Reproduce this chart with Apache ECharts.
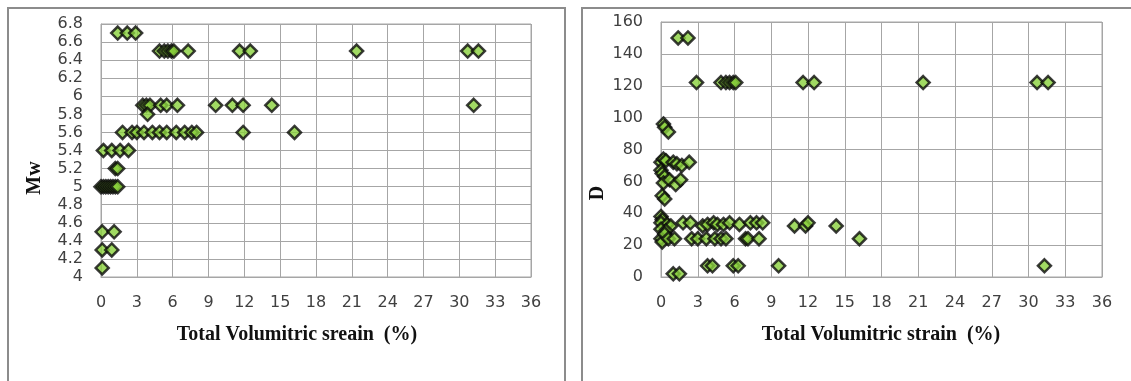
<!DOCTYPE html>
<html>
<head>
<meta charset="utf-8">
<script src="https://cdn.jsdelivr.net/npm/echarts@6/dist/echarts.min.js"></script>
<style>
  html, body { margin: 0; padding: 0; background: #fff; }
  #chart { width: 1131px; height: 381px; }
</style>
</head>
<body>
<div id="chart"></div>
<script>
// left panel: strain (%) vs Mw
const mwStrain = [
  1.4, 2.2, 2.9,
  4.9, 5.3, 5.6, 5.9, 6.1, 7.3, 11.6, 12.5, 21.4, 30.7, 31.6,
  3.5, 3.8, 4.1, 5.0, 5.5, 6.4, 9.6, 11.0, 11.9, 14.3, 31.2,
  3.9,
  1.8, 2.6, 3.0, 3.6, 4.3, 4.9, 5.5, 6.3, 7.0, 7.6, 8.0, 11.9, 16.2,
  0.2, 0.9, 1.6, 2.3,
  1.2, 1.4,
  0.0, 0.2, 0.4, 0.6, 0.8, 1.0, 1.2, 1.4,
  0.1, 1.1,
  0.1, 0.9,
  0.1
];
const mwValues = [
  6.7, 6.7, 6.7,
  6.5, 6.5, 6.5, 6.5, 6.5, 6.5, 6.5, 6.5, 6.5, 6.5, 6.5,
  5.9, 5.9, 5.9, 5.9, 5.9, 5.9, 5.9, 5.9, 5.9, 5.9, 5.9,
  5.8,
  5.6, 5.6, 5.6, 5.6, 5.6, 5.6, 5.6, 5.6, 5.6, 5.6, 5.6, 5.6, 5.6,
  5.4, 5.4, 5.4, 5.4,
  5.2, 5.2,
  5.0, 5.0, 5.0, 5.0, 5.0, 5.0, 5.0, 5.0,
  4.5, 4.5,
  4.3, 4.3,
  4.1
];

// right panel: strain (%) vs D
const dStrain = [
  1.4, 2.2,
  2.9, 4.9, 5.3, 5.6, 5.9, 6.1, 11.6, 12.5, 21.4, 30.7, 31.6,
  0.2, 0.3, 0.6,
  0.0, 0.2, 0.4, 1.0, 1.3, 1.7, 2.3,
  0.0, 0.1, 0.3,
  0.2, 0.7, 1.2, 1.6,
  0.1, 0.3,
  0.0, 0.1, 0.0,
  0.5, 0.8, 1.8, 2.4, 3.4, 3.8, 4.3, 4.6, 5.1, 5.6, 6.4, 7.3, 7.8, 8.3, 10.9, 11.8, 12.0, 14.3,
  0.0, 0.4,
  0.0, 0.1, 0.3, 0.6, 1.1, 2.5, 3.0, 3.7, 4.4, 4.9, 5.3, 6.9, 7.1, 8.0, 16.2,
  3.8, 4.2, 5.9, 6.3, 9.6, 31.3,
  1.0, 1.5
];
const dValues = [
  150, 150,
  122, 122, 122, 122, 122, 122, 122, 122, 122, 122, 122,
  96, 94, 91,
  72, 74, 73, 72, 71, 70, 72,
  67, 65, 63,
  59, 61, 58, 61,
  51, 49,
  38, 36, 34,
  33, 32, 34, 34, 32, 33, 34, 33, 33, 34, 33, 34, 34, 34, 32, 32, 34, 32,
  30, 29,
  24, 22, 27, 24, 24, 24, 24, 24, 24, 24, 24, 24, 24, 24, 24,
  7, 7, 7, 7, 7, 7,
  2, 2
];

const xTitleLeft = 'Total Volumitric sreain  (%)';
const xTitleRight = 'Total Volumitric strain  (%)';

const pairs = (xs, ys) => xs.map((x, i) => [x, ys[i]]);

const gridColor = '#a6a6a6';
const labelStyle = { color: '#404040', fontFamily: 'DejaVu Sans', fontSize: 16 };
const nameFont = 'bold 20px "Liberation Serif"';

function xAxisFor(gridIndex) {
  return {
    type: 'value', gridIndex, min: 0, max: 36, interval: 3,
    axisLine: { show: true, lineStyle: { color: gridColor, width: 1 } },
    axisTick: { show: false },
    axisLabel: Object.assign({ margin: 18 }, labelStyle),
    splitLine: { show: true, lineStyle: { color: gridColor, width: 1 } }
  };
}

function yAxisFor(gridIndex, min, max, interval) {
  return {
    type: 'value', gridIndex, min, max, interval,
    axisLine: { show: true, lineStyle: { color: gridColor, width: 1 } },
    axisTick: { show: false },
    axisLabel: Object.assign({ margin: 18 }, labelStyle),
    splitLine: { show: true, lineStyle: { color: gridColor, width: 1 } }
  };
}

const markerStyle = { color: '#8ad13c', borderColor: '#0a0a0a', borderWidth: 2.5 };

function titleText(text, x, y, rotate) {
  return {
    type: 'text', x, y, rotation: rotate ? Math.PI / 2 : 0, silent: true,
    style: { text, fill: '#111', font: nameFont, align: 'center', verticalAlign: 'middle' }
  };
}

const chart = echarts.init(document.getElementById('chart'), null, { renderer: 'canvas' });
chart.setOption({
  animation: false,
  grid: [
    { left: 101, top: 24, width: 430, height: 253, show: true, borderColor: gridColor, borderWidth: 1 },
    { left: 661, top: 22, width: 441, height: 255, show: true, borderColor: gridColor, borderWidth: 1 }
  ],
  xAxis: [xAxisFor(0), xAxisFor(1)],
  yAxis: [yAxisFor(0, 4, 6.8, 0.2), yAxisFor(1, 0, 160, 20)],
  series: [
    {
      type: 'scatter', xAxisIndex: 0, yAxisIndex: 0,
      symbol: 'diamond', symbolSize: 13,
      itemStyle: markerStyle,
      data: pairs(mwStrain, mwValues)
    },
    {
      type: 'scatter', xAxisIndex: 1, yAxisIndex: 1,
      symbol: 'diamond', symbolSize: 13,
      itemStyle: markerStyle,
      data: pairs(dStrain, dValues)
    }
  ],
  graphic: [
    // panel frames
    { type: 'polyline', shape: { points: [[8, 381], [8, 8], [565, 8], [565, 381]] },
      style: { stroke: '#8c8c8c', lineWidth: 2, fill: null }, silent: true },
    { type: 'polyline', shape: { points: [[582, 381], [582, 8], [1131, 8]] },
      style: { stroke: '#8c8c8c', lineWidth: 2, fill: null }, silent: true },
    // axis titles
    titleText('Mw', 35, 178, true),
    titleText('D', 598, 193, true),
    titleText(xTitleLeft, 297, 335, false),
    titleText(xTitleRight, 881, 335, false)
  ]
});
</script>
</body>
</html>
